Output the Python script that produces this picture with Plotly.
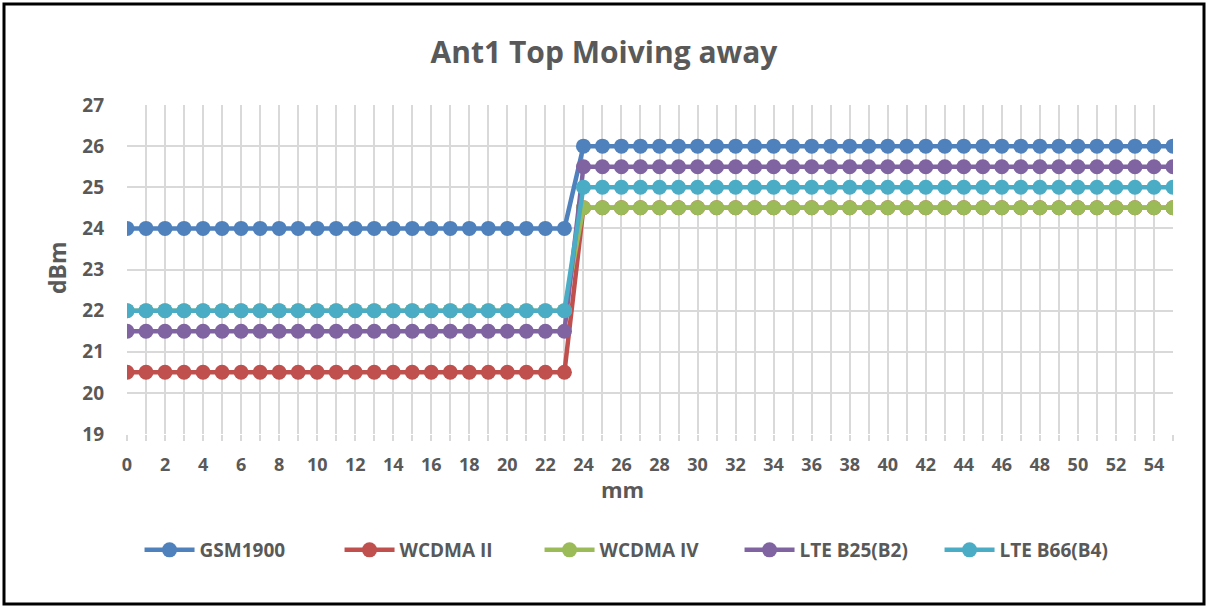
import plotly.graph_objects as go

mm = list(range(0, 56))
gsm1900 = [24] * 24 + [26] * 32
wcdma_ii = [20.5] * 24 + [24.5] * 32
wcdma_iv = [22] * 24 + [24.5] * 32
lte_b25 = [21.5] * 24 + [25.5] * 32
lte_b66 = [22] * 24 + [25] * 32

series = [
    ("GSM1900", gsm1900, "#4F81BD"),
    ("WCDMA II", wcdma_ii, "#C0504D"),
    ("WCDMA IV", wcdma_iv, "#9BBB59"),
    ("LTE B25(B2)", lte_b25, "#8064A2"),
    ("LTE B66(B4)", lte_b66, "#4BACC6"),
]

font_family = "Open Sans, Roboto, sans-serif"
grey = "#595959"

fig = go.Figure()
for name, vals, color in series:
    fig.add_trace(go.Scatter(
        x=mm, y=vals, name=f"<b>{name}</b>", mode="lines+markers",
        line=dict(color=color, width=4.5),
        marker=dict(color=color, size=15),
    ))

# pixel -> paper helpers
L, R, T, B = 127, 35, 105, 173
pw, ph = 1208 - L - R, 607 - T - B

fig.update_layout(
    width=1208, height=607,
    margin=dict(l=L, r=R, t=T, b=B, autoexpand=False),
    paper_bgcolor="white", plot_bgcolor="white",
    font=dict(family=font_family, color=grey, size=17),
    title=dict(text="<b>Ant1 Top Moiving away</b>", x=0.5, xanchor="center",
               y=1 - 52 / 607, yanchor="middle",
               font=dict(size=30, color=grey)),
    legend=dict(orientation="h", x=0.49, xanchor="center",
                y=(434 - 550) / ph, yanchor="middle",
                font=dict(size=19, color=grey),
                itemwidth=50, entrywidth=135, entrywidthmode="pixels"),
    showlegend=True,
    shapes=[dict(type="rect", xref="paper", yref="paper",
                 x0=(4 - L) / pw, x1=(1204 - L) / pw,
                 y0=(434 - 604) / ph, y1=(434 - 4) / ph,
                 line=dict(color="black", width=3), layer="below")],
    annotations=[
        dict(text="<b>mm</b>", xref="paper", yref="paper",
             x=(622 - L) / pw, y=(434 - 489) / ph, showarrow=False,
             xanchor="center", yanchor="middle",
             font=dict(size=22, color=grey)),
        dict(text="<b>dBm</b>", xref="paper", yref="paper",
             x=(57 - L) / pw, y=(434 - 268) / ph, showarrow=False,
             textangle=-90, xanchor="center", yanchor="middle",
             font=dict(size=23, color=grey)),
    ],
)

fig.update_xaxes(
    range=[0, 55], tickvals=mm,
    ticktext=[f"<b>{v}</b>" if v % 2 == 0 else "" for v in mm],
    showgrid=True, gridcolor="#D9D9D9", gridwidth=2,
    showline=False, zeroline=False,
    ticks="outside", ticklen=6, tickwidth=2, tickcolor="#D9D9D9",
    ticklabelstandoff=8,
    tickfont=dict(size=18, color=grey),
)
fig.update_yaxes(
    range=[19, 27], dtick=1,
    tickvals=list(range(19, 28)),
    ticktext=[f"<b>{v}</b>" for v in range(19, 28)],
    showgrid=True, gridcolor="#D9D9D9", gridwidth=2,
    zeroline=False, ticks="",
    ticklabelstandoff=22,
    tickfont=dict(size=19, color=grey),
)

fig.write_html("out.html", config={"displayModeBar": False},
               post_script="document.body.style.margin='0';")
